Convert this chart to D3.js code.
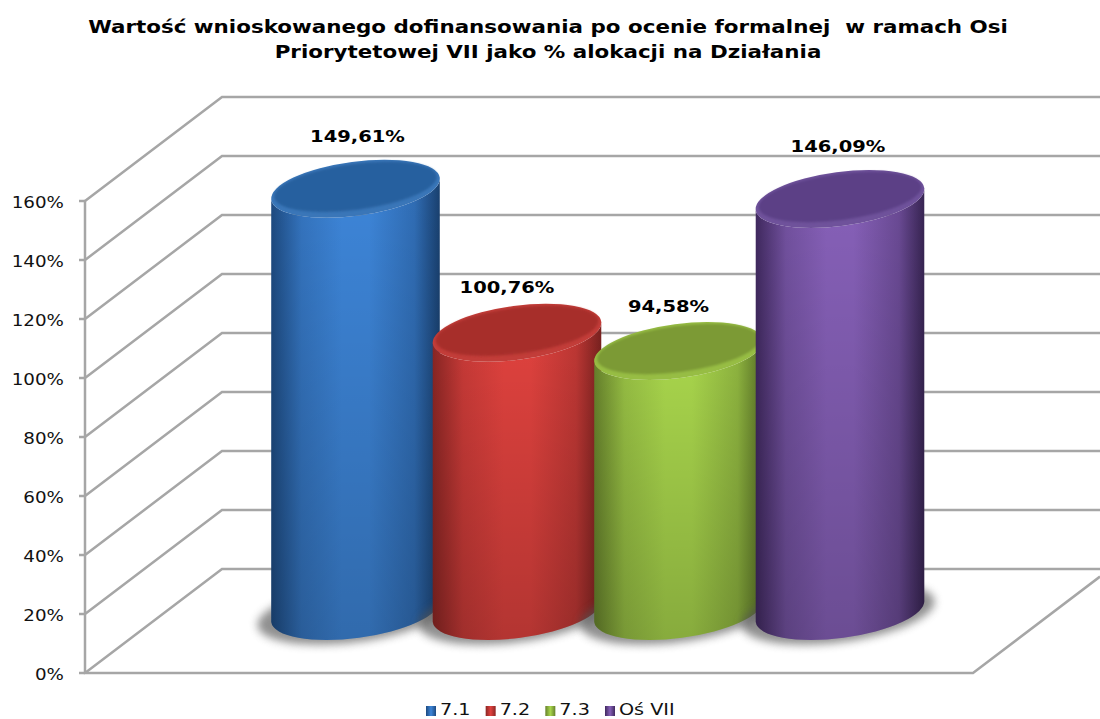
<!DOCTYPE html>
<html><head><meta charset="utf-8">
<script src="https://cdn.jsdelivr.net/npm/d3@7"></script>
<style>html,body{margin:0;padding:0;background:#fff;overflow:hidden}text{white-space:pre}</style>
</head><body><svg id="c" width="1100" height="719"></svg>
<script>
const titleLines = ["Wartość wnioskowanego dofinansowania po ocenie formalnej  w ramach Osi","Priorytetowej VII jako % alokacji na Działania"];
const categories = ["7.1","7.2","7.3","Oś VII"];
const values = [149.61,100.76,94.58,146.09];
const valueLabels = ["149,61%","100,76%","94,58%","146,09%"];
const tickValues = [0,20,40,60,80,100,120,140,160];
const edgeColors = ["#1d4a80","#8a2624","#66812c","#40295f"];
const midColors = ["#3d85d8","#e0423e","#a9d64c","#8660b8"];
const capColors = ["#28609f","#a72e2b","#7c9a36","#5c4086"];
const rimColors = ["#3a76b8","#c23d39","#97bd44","#6f529b"];

const svg = d3.select("#c");
const defs = svg.append("defs");
const FONT = "'DejaVu Sans',Verdana,sans-serif";
const GRID = "#a6a6a6";

// scene geometry
const front = {x:85, y0:673, y160:201};
const depth = {dx:137, dy:-104};
const y = d3.scaleLinear().domain([0,160]).range([front.y0,front.y160]);
const barDepth = -43;
const baseY = 611;
const rx = 85, ry = 27, tilt = 7.5;
const xPos = d3.scalePoint().domain(categories).range([355.5,840]);
const legendX = d3.scalePoint().domain(categories).range([426,605]);
const labelDx = [2,-10,-10,-2];
const labelDy = [-47,-40,-39,-47];

const blur = defs.append("filter").attr("id","sh").attr("x","-20%").attr("y","-50%").attr("width","140%").attr("height","200%");
blur.append("feGaussianBlur").attr("stdDeviation",4);
const shade = defs.append("linearGradient").attr("id","shade").attr("x1",0).attr("y1",0).attr("x2",0).attr("y2",1);
shade.append("stop").attr("offset",0).attr("stop-color","#000").attr("stop-opacity",0);
shade.append("stop").attr("offset",1).attr("stop-color","#000").attr("stop-opacity",0.2);
const capBlur = defs.append("filter").attr("id","cb").attr("x","-10%").attr("y","-20%").attr("width","120%").attr("height","140%");
capBlur.append("feGaussianBlur").attr("stdDeviation",1.2);

categories.forEach((c,i)=>{
  const g = defs.append("linearGradient").attr("id","side"+i).attr("x1",0).attr("y1",0).attr("x2",1).attr("y2",0);
  [[0,edgeColors[i]],[0.18,d3.interpolateRgb(edgeColors[i],midColors[i])(0.72)],[0.42,midColors[i]],[0.58,midColors[i]],
   [0.85,d3.interpolateRgb(edgeColors[i],midColors[i])(0.6)],[1,d3.color(edgeColors[i]).darker(0.4)]]
   .forEach(s=>g.append("stop").attr("offset",s[0]).attr("stop-color",s[1]));
  const m = defs.append("linearGradient").attr("id","leg"+i).attr("x1",0).attr("y1",0).attr("x2",1).attr("y2",0);
  [[0,edgeColors[i]],[0.5,midColors[i]],[1,edgeColors[i]]].forEach(s=>m.append("stop").attr("offset",s[0]).attr("stop-color",s[1]));
});

// title
svg.append("g").selectAll("text").data(titleLines).join("text")
  .attr("transform",(d,i)=>`translate(548,${33+i*25}) scale(1.26,1)`).attr("text-anchor","middle")
  .attr("font-family",FONT).attr("font-weight","bold").attr("font-size",17).attr("fill","#000").text(d=>d);

// walls
const grid = svg.append("g").attr("fill","none").attr("stroke",GRID).attr("stroke-width",2.5);
tickValues.forEach(t=>{
  const yf=y(t), xb=front.x+depth.dx, yb=yf+depth.dy;
  grid.append("path").attr("d",d3.line()([[front.x,yf],[xb,yb],[1100,yb]]));
});
grid.append("path").attr("d",d3.line()([[front.x,y(160)],[front.x,y(0)],[973,y(0)],[1100,y(0)+depth.dy*(127/depth.dx)]]));
tickValues.forEach(t=>grid.append("line").attr("x1",front.x-6).attr("x2",front.x).attr("y1",y(t)).attr("y2",y(t)));

// axis labels
svg.append("g").selectAll("text").data(tickValues).join("text")
  .attr("transform",d=>`translate(64,${y(d)+7}) scale(1.22,1)`).attr("text-anchor","end")
  .attr("font-family",FONT).attr("font-size",15).attr("fill","#111").text(d=>d+"%");

// cylinders
const rad = tilt*Math.PI/180;
const ex = rx*Math.cos(rad), ey = rx*Math.sin(rad);
const rot = -tilt;
const bars = svg.append("g");
categories.forEach((c,i)=>{
  const cx = xPos(c), top = y(values[i])+barDepth;
  const g = bars.append("g");
  g.append("ellipse").attr("cx",cx-2).attr("cy",baseY+2).attr("rx",rx+12).attr("ry",ry+2)
    .attr("transform",`rotate(${rot} ${cx} ${baseY})`).attr("fill","#555").attr("opacity",0.65).attr("filter","url(#sh)");
  const d = `M${cx-ex},${top+ey}L${cx-ex},${baseY+ey}A${rx},${ry} ${rot} 0 0 ${cx+ex},${baseY-ey}L${cx+ex},${top-ey}A${rx},${ry} ${rot} 0 1 ${cx-ex},${top+ey}Z`;
  g.append("path").attr("d",d).attr("fill",`url(#side${i})`);
  g.append("path").attr("d",d).attr("fill","url(#shade)");
  g.append("ellipse").attr("cx",cx).attr("cy",top).attr("rx",rx).attr("ry",ry)
    .attr("transform",`rotate(${rot} ${cx} ${top})`).attr("fill",rimColors[i]);
  g.append("ellipse").attr("cx",cx).attr("cy",top-2).attr("rx",rx-3).attr("ry",ry-4)
    .attr("transform",`rotate(${rot} ${cx} ${top-2})`).attr("fill",capColors[i]).attr("filter","url(#cb)");
});

// data labels
svg.append("g").selectAll("text").data(valueLabels).join("text")
  .attr("transform",(d,i)=>`translate(${xPos(categories[i])+labelDx[i]},${y(values[i])+barDepth+labelDy[i]}) scale(1.22,1)`)
  .attr("text-anchor","middle").attr("font-family",FONT).attr("font-weight","bold")
  .attr("font-size",16).attr("fill","#000").text(d=>d);

// legend
const leg = svg.append("g").selectAll("g").data(categories).join("g")
  .attr("transform",d=>`translate(${legendX(d)},0)`);
leg.append("rect").attr("x",0).attr("y",706).attr("width",10).attr("height",10).attr("fill",(d,i)=>`url(#leg${i})`);
leg.append("text").attr("transform","translate(14,715) scale(1.2,1)").attr("font-family",FONT).attr("font-size",16).attr("fill","#111").text(d=>d);
</script></body></html>
